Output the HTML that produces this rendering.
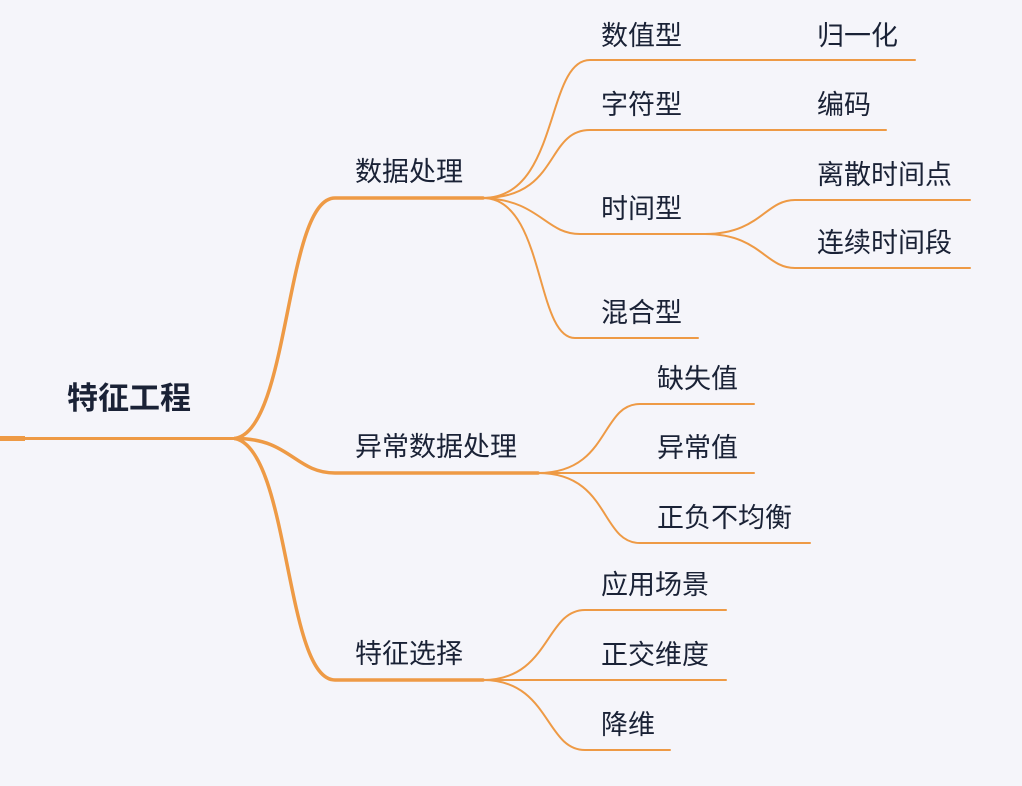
<!DOCTYPE html>
<html><head><meta charset="utf-8"><style>
html,body{margin:0;padding:0;background:#F5F5FA;}
svg{display:block}
text{font-family:"Liberation Sans","Noto Sans CJK SC",sans-serif;fill:#1a2236;font-size:27px}
</style></head><body>
<svg width="1022" height="786" viewBox="0 0 1022 786" xmlns="http://www.w3.org/2000/svg">
<g fill="none" stroke="#EE9A45" stroke-linecap="round">
<line x1="0" y1="438.5" x2="25" y2="438.5" stroke-width="5" stroke-linecap="butt"/>
<line x1="25" y1="438.5" x2="235" y2="438.5" stroke-width="3"/>
<path d="M235 438.5 C290 430 285 198 335 198 L483 198" stroke-width="3.5"/>
<path d="M235 438.5 C290 438 295 473 335 473 L538 473" stroke-width="3.5"/>
<path d="M235 438.5 C290 450 285 680 335 680 L483 680" stroke-width="3.5"/>
<g stroke-width="2">
<path d="M483 198 C560 198 545 60 590 60 L915 60"/>
<path d="M483 198 C560 198 545 130 590 130 L886 130"/>
<path d="M483 198 C540 200 545 234 580 234 L705 234"/>
<path d="M483 198 C545 198 535 338 575 338 L698 338"/>
<path d="M705 234 C760 234 765 200 795 200 L970 200"/>
<path d="M705 234 C760 234 765 268 795 268 L970 268"/>
<path d="M538 473 C610 473 600 404 640 404 L754 404"/>
<path d="M538 473 L754 473"/>
<path d="M538 473 C610 473 600 543 640 543 L810 543"/>
<path d="M483 680 C550 680 545 610 585 610 L726 610"/>
<path d="M483 680 L726 680"/>
<path d="M483 680 C550 680 545 750 585 750 L670 750"/>
</g>
</g>
<text x="67" y="409" style="font-size:31px;font-weight:bold">特征工程</text>
<text x="355" y="181">数据处理</text>
<text x="355" y="456">异常数据处理</text>
<text x="355" y="663">特征选择</text>
<text x="601" y="45">数值型</text>
<text x="817" y="45">归一化</text>
<text x="601" y="114">字符型</text>
<text x="817" y="114">编码</text>
<text x="601" y="218">时间型</text>
<text x="817" y="184">离散时间点</text>
<text x="817" y="252">连续时间段</text>
<text x="601" y="322">混合型</text>
<text x="657" y="388">缺失值</text>
<text x="657" y="457">异常值</text>
<text x="657" y="527">正负不均衡</text>
<text x="601" y="594">应用场景</text>
<text x="601" y="664">正交维度</text>
<text x="601" y="734">降维</text>
</svg>
</body></html>
